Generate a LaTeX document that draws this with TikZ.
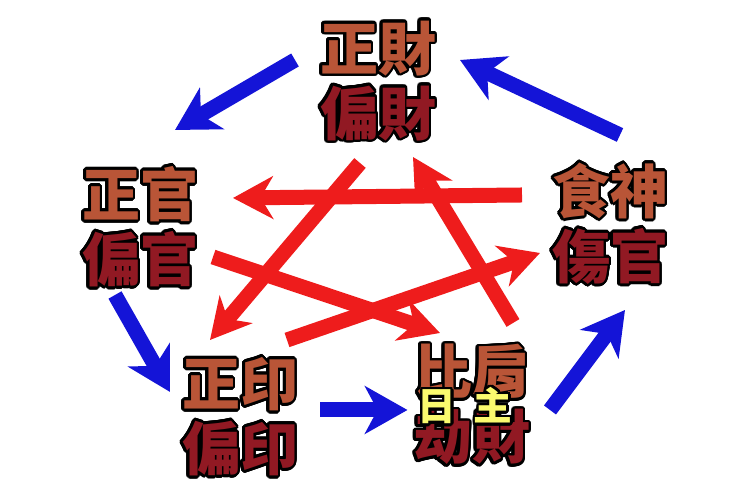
\documentclass[tikz,border=0pt]{standalone}
\usepackage{fontspec}
\newfontfamily\cjk{Noto Sans CJK TC}
\usepackage{contour}
\contourlength{1.5pt}
\contournumber{24}
\usetikzlibrary{arrows.meta}
\definecolor{shang}{RGB}{185,85,55}
\definecolor{xia}{RGB}{145,25,35}
\definecolor{lanse}{RGB}{20,20,215}
\definecolor{hongse}{RGB}{238,28,28}
\definecolor{huang}{RGB}{250,250,110}
\newcommand{\ci}[2]{\textcolor{#1}{\contour{black}{#2}}}
\begin{document}
\begin{tikzpicture}[
    zi/.style={align=center,inner sep=0pt,font=\cjk\bfseries\fontsize{33}{37}\selectfont},
    lan/.style={line width=0.3cm,draw=lanse,-{Stealth[length=0.85cm,width=0.95cm,inset=0.25cm]}},
    hong/.style={line width=0.3cm,draw=hongse,-{Stealth[length=0.8cm,width=0.85cm,inset=0.25cm]}}
]
    \useasboundingbox (0,0) rectangle (15,10);
    \node[zi] (cai) at (7.56,8.36) {\ci{shang}{正財}\\\ci{xia}{偏財}};
    \node[zi] (guan) at (2.8,5.44) {\ci{shang}{正官}\\\ci{xia}{偏官}};
    \node[zi] (shi) at (12.2,5.5) {\ci{shang}{食神}\\\ci{xia}{傷官}};
    \node[zi] (yin) at (4.8,1.64) {\ci{shang}{正印}\\\ci{xia}{偏印}};
    \node[zi] (bi) at (9.44,1.88) {\ci{shang}{比肩}\\\ci{xia}{劫財}};
    \node[font=\cjk\bfseries\fontsize{22}{24}\selectfont,inner sep=0pt] (rizhu) at (9.3,1.86)
        {\ci{huang}{日}\hspace{0.45em}\ci{huang}{主}};
    % красные стрелки
    \coordinate (r1a) at (10.44,6.1);  \coordinate (r1b) at (4.66,6.04);
    \coordinate (r2a) at (7.2,6.74);   \coordinate (r2b) at (4.2,3.2);
    \coordinate (r3a) at (10.26,3.54); \coordinate (r3b) at (8.26,6.86);
    \coordinate (r4a) at (4.26,4.86);  \coordinate (r4b) at (8.8,3.34);
    \coordinate (r5a) at (5.74,3.2);   \coordinate (r5b) at (10.8,4.94);
    \foreach \i in {1,...,5} {
        \draw[hong] (r\i a) -- (r\i b);
    }
    % синие стрелки по кругу
    \coordinate (b1a) at (5.9,8.8);  \coordinate (b1b) at (3.5,7.4);
    \coordinate (b2a) at (12.4,7.3); \coordinate (b2b) at (9.2,8.8);
    \coordinate (b3a) at (2.3,4.1);  \coordinate (b3b) at (3.4,2.16);
    \coordinate (b4a) at (6.4,1.8);  \coordinate (b4b) at (8.15,1.8);
    \coordinate (b5a) at (11.0,1.8); \coordinate (b5b) at (12.5,3.8);
    \foreach \i in {1,...,5} {
        \draw[lan] (b\i a) -- (b\i b);
    }
\end{tikzpicture}
\end{document}
